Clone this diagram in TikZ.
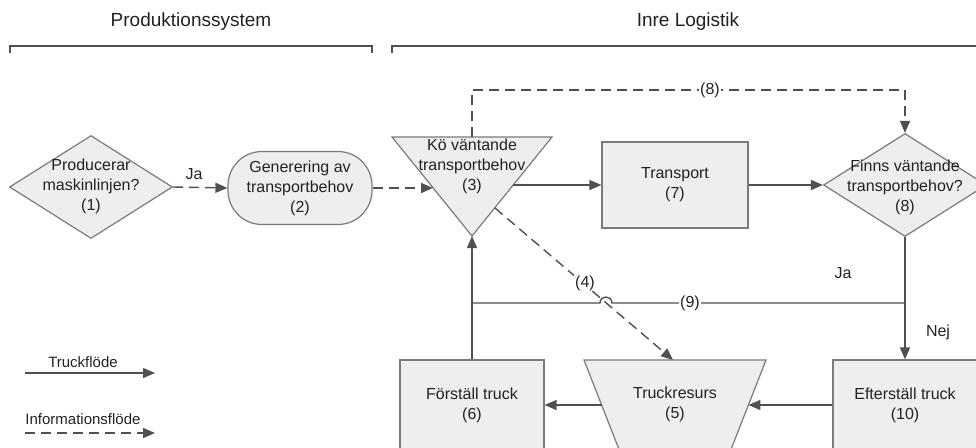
\documentclass[tikz,border=0pt]{standalone}
\usepackage{fontspec}
\setmainfont{Liberation Sans}
\usetikzlibrary{arrows.meta,shapes.geometric}
\definecolor{shapefill}{HTML}{EEEEEE}
\definecolor{shapeline}{HTML}{7A7A7A}
\definecolor{conn}{HTML}{505050}
\definecolor{txt}{HTML}{222222}
\begin{document}
\begin{tikzpicture}[x=1pt,y=-1pt,
  every node/.style={font=\fontsize{16}{20}\selectfont, text=txt, align=center},
  box/.style={draw=shapeline, fill=shapefill, line width=1.2pt, inner sep=0pt},
  rectbox/.style={box, rectangle, minimum width=146, minimum height=86},
  dia/.style={box, diamond, minimum width=163, minimum height=103},
  txtnode/.style={inner sep=0pt},
  flow/.style={draw=conn, line width=1.4pt, -{Triangle[length=12pt,width=10pt]}},
  info/.style={flow, dash pattern=on 10pt off 6pt},
  plainline/.style={draw=conn, line width=1.4pt},
  lbl/.style={inner sep=1pt},
  legend/.style={font=\fontsize{15}{18}\selectfont},
  title/.style={font=\fontsize{19}{23}\selectfont},
  bracket/.style={draw=conn, line width=1.3pt}]
\useasboundingbox (0,0) rectangle (976,447);
\clip (0,0) rectangle (976,447);

% titles and brackets
\node[title] (tt1) at (191,22) {Produktionssystem};
\node[title] (tt2) at (688,22) {Inre Logistik};
\draw[bracket] (10,53) -- (10,46) -- (372,46) -- (372,53);
\draw[bracket] (392,53) -- (392,46) -- (980,46);

% (1)
\node[dia] (d1) at (91,187) {};
\node[txtnode] (t1) at (91,186) {Producerar\\maskinlinjen?\\(1)};

% (2)
\node[box, rectangle, rounded corners=34pt, minimum width=144, minimum height=73] (g2) at (300,188) {Generering av\\transportbehov\\(2)};

% (3) inverted triangle
\coordinate (q3tl) at (392,137);
\coordinate (q3tr) at (552,137);
\coordinate (q3apex) at (472,236);
\coordinate (q3top) at (472,137);
\coordinate (q3in) at (433,188);
\coordinate (q3out) at (513,185);
\coordinate (q3r4) at (495,208);
\draw[box] (q3tl) -- (q3tr) -- (q3apex) -- cycle;
\node[txtnode] (t3) at (472,166) {Kö väntande\\transportbehov\\(3)};

% (7)
\node[rectbox] (tr7) at (675,185) {Transport\\(7)};

% (8)
\node[dia] (d8) at (905,185) {};
\node[txtnode] (t8) at (905,187) {Finns väntande\\transportbehov?\\(8)};

% bottom row
\node[rectbox, minimum width=144, minimum height=90] (f6) at (472,405) {Förställ truck\\(6)};
\coordinate (t5a) at (584,360);
\coordinate (t5b) at (766,360);
\coordinate (t5c) at (730,452);
\coordinate (t5d) at (620,452);
\coordinate (t5top) at (673,360);
\coordinate (t5l) at (601.6,405);
\coordinate (t5r) at (748.4,405);
\draw[box] (t5a) -- (t5b) -- (t5c) -- (t5d) -- cycle;
\node[txtnode] (t5) at (675,404) {Truckresurs\\(5)};
\node[rectbox, minimum width=144, minimum height=90] (ef10) at (905,405) {Efterställ truck\\(10)};

% connectors
\draw[info] (d1.east) -- (g2.west);
\node[lbl] (lja1) at (194,174) {Ja};
\draw[info] (g2.east) -- (q3in);
\draw[flow] (q3out) -- (tr7.west);
\draw[flow] (tr7.east) -- (d8.west);
\coordinate (c8) at (710,90);
\draw[info] (q3top) |- (c8) -| (d8.north);
\node[lbl, fill=white] (l8) at (c8) {(8)};
\draw[flow] (d8.south) -- (ef10.north);
\coordinate (j9) at (905,303);
\coordinate (k9) at (472,303);
\coordinate (hopR) at (612,303);
\coordinate (hopL) at (600,303);
\draw[plainline] (j9) -- (hopR) .. controls (612,295) and (600,295) .. (hopL) -- (k9);
\node[lbl, fill=white] (l9) at (690,303) {(9)};
\draw[flow] (f6.north) -- (q3apex);
\draw[info] (q3r4) -- (t5top);
\node[lbl, fill=white] (l4) at (585,283) {(4)};
\draw[flow] (ef10.west) -- (t5r);
\draw[flow] (t5l) -- (f6.east);
\node[lbl] (lja2) at (843,273) {Ja};
\node[lbl] (lnej) at (938,332) {Nej};

% legend
\node[legend] (lg1) at (83,362) {Truckflöde};
\coordinate (lg1a) at (25,373);
\coordinate (lg1b) at (155,373);
\draw[flow] (lg1a) -- (lg1b);
\node[legend] (lg2) at (83,419) {Informationsflöde};
\coordinate (lg2a) at (25,433);
\coordinate (lg2b) at (155,433);
\draw[info] (lg2a) -- (lg2b);
\end{tikzpicture}
\end{document}
